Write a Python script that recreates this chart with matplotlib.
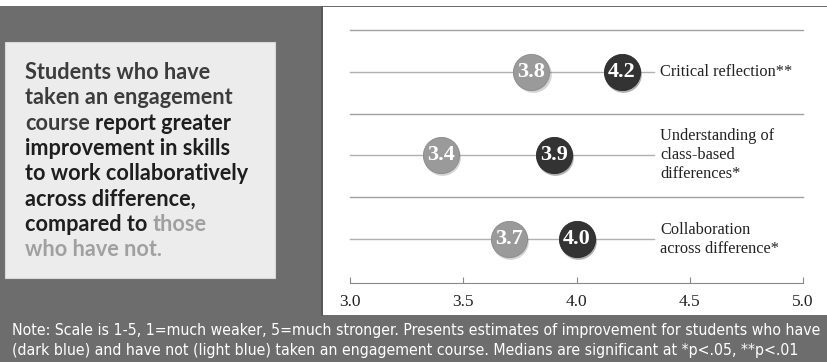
import matplotlib.pyplot as plt
from matplotlib import font_manager
from matplotlib.transforms import offset_copy
import numpy as np

# data
categories = ['Critical reflection**',
              'Understanding of\nclass-based\ndifferences*',
              'Collaboration\nacross difference*']
have_not = [3.8, 3.4, 3.7]
have = [4.2, 3.9, 4.0]
ticks = [3.0, 3.5, 4.0, 4.5, 5.0]
note = ['Note: Scale is 1-5, 1=much weaker, 5=much stronger. Presents estimates of improvement for students who have',
        '(dark blue) and have not (light blue) taken an engagement course. Medians are significant at *p<.05, **p<.01']

W, H = 827, 362
fig = plt.figure(figsize=(W / 100, H / 100), dpi=100)
fig.patch.set_facecolor('#6d6d6d')
r = fig.canvas.get_renderer()

# white strip at top
fig.patches.append(plt.Rectangle((0, 1 - 6 / H), 1, 6 / H, transform=fig.transFigure,
                                 facecolor='white', edgecolor='none', zorder=0))

# left note box
fig.patches.append(plt.Rectangle((5 / W, 1 - 278 / H), 270 / W, 236 / H,
                                 transform=fig.transFigure, facecolor='#ececec',
                                 edgecolor='#d8d8d8', lw=0.8, zorder=1))

# chart panel
ax = fig.add_axes([323 / W, 1 - 315 / H, (W - 323) / W, 308 / H])
ax.set_facecolor('white')
px = 453 / 2.0
ax.set_xlim(3.0 - 27 / px, 5.0 + 24 / px)
ax.set_ylim(-0.91, 2.778)

ys = np.arange(len(categories))[::-1]
for s in [2.5, 1.5, 0.5]:
    ax.plot([3.0, 5.0], [s, s], color='#a0a0a0', lw=1.0, zorder=1)
for y in ys:
    ax.plot([3.0, 4.34], [y, y], color='#b0b0b0', lw=1.0, zorder=1)

shadow = offset_copy(ax.transData, fig=fig, x=1.5, y=-2.0, units='dots')
ax.scatter(have_not, ys, s=700, color='#555555', alpha=0.25, transform=shadow, zorder=2, lw=0)
ax.scatter(have, ys, s=700, color='#222222', alpha=0.35, transform=shadow, zorder=2, lw=0)
ax.scatter(have_not, ys, s=680, color='#9a9a9a', edgecolor='#8a8a8a', lw=0.6, zorder=3)
ax.scatter(have, ys, s=680, color='#333333', edgecolor='#2a2a2a', lw=0.6, zorder=3)
for a, b, y in zip(have_not, have, ys):
    ax.text(a, y, f'{a:.1f}', ha='center', va='center', color='white',
            fontsize=16, fontweight='bold', family='Liberation Serif', zorder=4)
    ax.text(b, y, f'{b:.1f}', ha='center', va='center', color='white',
            fontsize=16, fontweight='bold', family='Liberation Serif', zorder=4)

for lab, y in zip(categories, ys):
    ax.text(4.37, y, lab, ha='left', va='center', fontsize=11.8,
            family='Liberation Serif', color='#222222', linespacing=1.25)

for sp in ['top', 'right', 'left']:
    ax.spines[sp].set_visible(False)
ax.spines['bottom'].set_position(('data', -0.53))
ax.spines['bottom'].set_bounds(3.0, 5.0)
ax.spines['bottom'].set_color('#888888')
ax.set_xticks(ticks)
ax.set_xticklabels([f'{t:.1f}' for t in ticks], family='Liberation Serif', fontsize=12.5,
                   color='#222222')
ax.tick_params(axis='x', direction='in', length=4, color='#888888', pad=8)
ax.set_yticks([])

# left panel border line
fig.add_artist(plt.Line2D([322 / W, 322 / W], [1 - 315 / H, 1 - 7 / H], color='#555555', lw=1.2))

# headline in the box
fam = 'Lato'
fs = 15.6
x0 = 25 / W
lines = [
    [('Students who have', '#3c3c3c')],
    [('taken an engagement', '#3c3c3c')],
    [('course', '#3c3c3c'), ('report greater', '#1e1e1e')],
    [('improvement in skills', '#1e1e1e')],
    [('to work collaboratively', '#1e1e1e')],
    [('across difference,', '#1e1e1e')],
    [('compared to', '#1e1e1e'), ('those', '#a0a0a0')],
    [('who have not.', '#a0a0a0')],
]
tmp = fig.text(0, 0, 'a a', fontsize=fs, family=fam, fontweight='bold')
w1 = tmp.get_window_extent(r).width
tmp.set_text('aa')
space = w1 - tmp.get_window_extent(r).width
tmp.remove()
for i, parts in enumerate(lines):
    yb = 1 - (79 + i * 25.3) / H
    x = x0
    for txt, col in parts:
        t = fig.text(x, yb, txt, fontsize=fs, family=fam, fontweight='bold', color=col,
                     va='baseline', ha='left')
        x = (t.get_window_extent(r).x1 + space) / W

# note at the bottom, sized to fill the width
nf, stretch = 'Liberation Sans', 'normal'
try:
    font_manager.findfont('Liberation Sans Narrow', fallback_to_default=False)
    nf = 'Liberation Sans Narrow'
except Exception:
    p = font_manager.findfont(font_manager.FontProperties(family='DejaVu Sans', stretch='condensed'))
    if 'Condensed' in p:
        nf, stretch = 'DejaVu Sans', 'condensed'
t1 = fig.text(12 / W, 1 - 331 / H, note[0], color='white', fontsize=10, family=nf,
              stretch=stretch, va='center')
nfs = 10 * 806 / t1.get_window_extent(r).width
t1.set_fontsize(nfs)
fig.text(12 / W, 1 - 350 / H, note[1], color='white', fontsize=nfs, family=nf,
         stretch=stretch, va='center')

fig.savefig('out.png', dpi=100, facecolor=fig.get_facecolor())
